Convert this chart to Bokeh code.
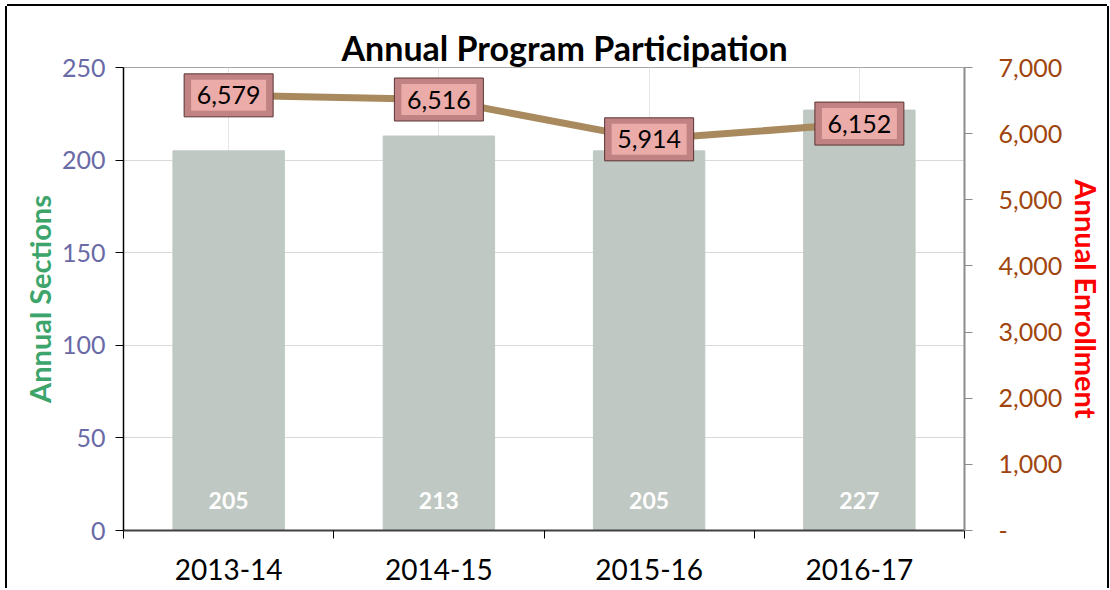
from bokeh.plotting import figure
from bokeh.models import (Range1d, LinearAxis, FixedTicker, NumeralTickFormatter,
                          LabelSet, ColumnDataSource, FactorRange)
from bokeh.embed import file_html
from bokeh.resources import INLINE
from bokeh.core.properties import value

# ---- data ----
years = ["2013-14", "2014-15", "2015-16", "2016-17"]
sections = [205, 213, 205, 227]
enrollment = [6579, 6516, 5914, 6152]
left_ticks = [0, 50, 100, 150, 200, 250]
right_ticks = [0, 1000, 2000, 3000, 4000, 5000, 6000, 7000]
title_text = "Annual Program Participation"

FONT = "Lato"
n = len(years)

p = figure(width=1100, height=582, x_range=FactorRange(factors=years),
           y_range=Range1d(0, 250), output_backend="svg", toolbar_location=None,
           x_axis_location=None, min_border_left=116, min_border_right=139,
           min_border_top=61, min_border_bottom=58)
p.margin = (6, 0, 0, 7)
p.styles = {"box-shadow": "-2px 0 0 0 #000, 2px 0 0 0 #000, 0 -2px 0 0 #000"}
p.outline_line_color = "#A6A6A6"
p.background_fill_color = "white"
p.border_fill_color = "white"

# title
p.title.text = title_text
p.title.align = "left"
p.title.offset = 218
p.title.standoff = 0
p.title.text_font = FONT
p.title.text_font_style = "bold"
p.title.text_font_size = "34px"
p.title.text_color = "black"

# grid
p.ygrid.ticker = FixedTicker(ticks=left_ticks)
p.ygrid.grid_line_color = "#D9D9D9"

# left axis
ly = p.yaxis[0]
ly.ticker = FixedTicker(ticks=left_ticks)
ly.axis_line_color = "black"
ly.axis_line_width = 1.5
ly.major_tick_in = 0
ly.major_tick_out = 8
ly.major_tick_line_color = "black"
ly.minor_tick_line_color = None
ly.major_label_text_color = "#6A6AA6"
ly.major_label_text_font = FONT
ly.major_label_text_font_size = "25px"
ly.major_label_standoff = 10
ly.axis_label = "Annual Sections"
ly.axis_label_text_color = "#3DA56B"
ly.axis_label_text_font = FONT
ly.axis_label_text_font_style = "bold"
ly.axis_label_text_font_size = "29px"
ly.axis_label_standoff = 2

# right axis
p.extra_y_ranges = {"enr": Range1d(0, 7000)}
ry = LinearAxis(y_range_name="enr", ticker=FixedTicker(ticks=right_ticks),
                formatter=NumeralTickFormatter(format="0,0"),
                major_label_overrides={0: "-"})
ry.axis_line_color = "#8C8C8C"
ry.axis_line_width = 2
ry.major_tick_in = 0
ry.major_tick_out = 8
ry.major_tick_line_color = "#8C8C8C"
ry.minor_tick_line_color = None
ry.major_label_text_color = "#A0450E"
ry.major_label_text_font = FONT
ry.major_label_text_font_size = "25px"
ry.major_label_standoff = 26
ry.axis_label = "Annual Enrollment"
ry.axis_label_text_color = "#FF0000"
ry.axis_label_text_font = FONT
ry.axis_label_text_font_style = "bold"
ry.axis_label_text_font_size = "29px"
ry.axis_label_standoff = 4
p.add_layout(ry, "right")

# bottom axis on the factor range's synthetic coordinates:
# labels at category centres, ticks at category boundaries
bx = LinearAxis(ticker=FixedTicker(ticks=[i + 0.5 for i in range(n)],
                                   minor_ticks=list(range(n + 1))),
                major_label_overrides={i + 0.5: years[i] for i in range(n)})
bx.axis_line_color = "#404040"
bx.axis_line_width = 2
bx.major_tick_in = 0
bx.major_tick_out = 0
bx.minor_tick_in = 0
bx.minor_tick_out = 8
bx.minor_tick_line_color = "black"
bx.major_label_text_font = FONT
bx.major_label_text_font_size = "28px"
bx.major_label_text_color = "black"
bx.major_label_standoff = 20
p.add_layout(bx, "below")

# bars
p.vbar(x=years, top=sections, width=0.53, color="#BFC8C2")

# bar value labels
bar_src = ColumnDataSource(dict(x=years, y=[0] * n, t=[str(s) for s in sections]))
p.add_layout(LabelSet(x="x", y="y", text="t", source=bar_src, y_offset=30,
                      text_align="center", text_baseline="middle",
                      text_color="white", text_font=value(FONT),
                      text_font_style="bold", text_font_size="23px"))

# enrollment line
p.line(x=years, y=enrollment, y_range_name="enr", line_width=7, color="#A88A5E")

# bevelled label boxes
p.rect(x=years, y=enrollment, width=89, height=43, width_units="screen",
       height_units="screen", y_range_name="enr", fill_color="#C08282",
       line_color="#5A3434", line_width=1)
p.rect(x=years, y=enrollment, width=75, height=31, width_units="screen",
       height_units="screen", y_range_name="enr", fill_color="#EAABA9",
       line_color=None)
p.text(x=years, y=enrollment, text=[f"{v:,}" for v in enrollment],
       y_range_name="enr", text_align="center", text_baseline="middle",
       text_font=value(FONT), text_font_size="25px", text_color="black")

open("out.html", "w").write(file_html(p, INLINE))
